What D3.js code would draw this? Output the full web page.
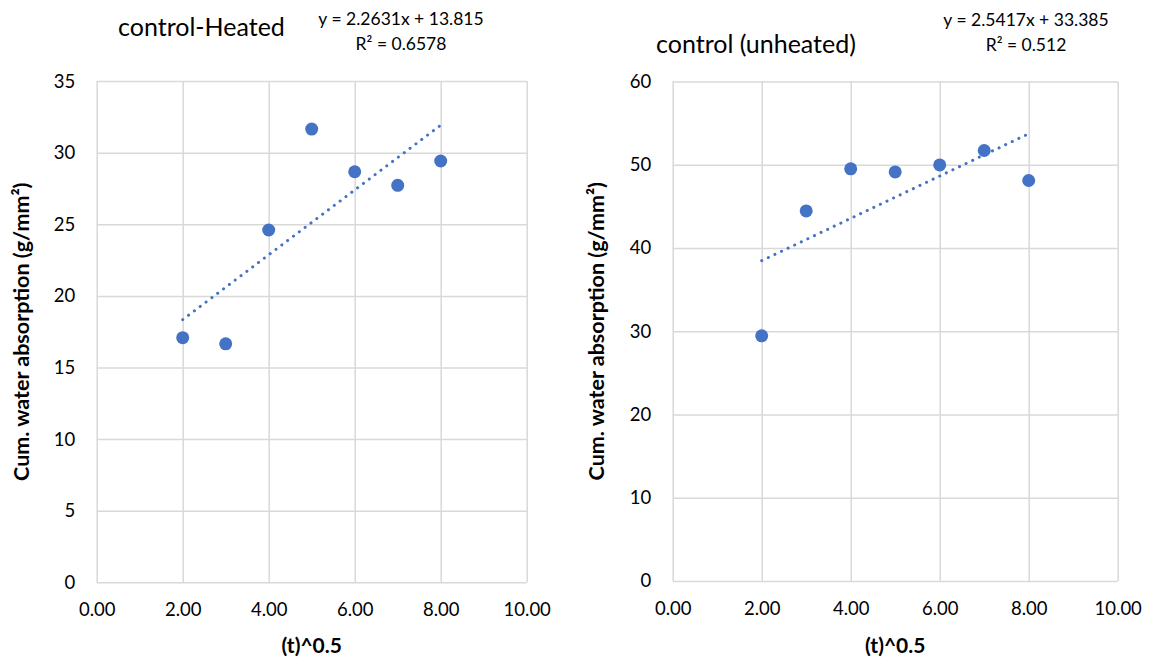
<!DOCTYPE html>
<html>
<head>
<meta charset="utf-8">
<script src="https://cdn.jsdelivr.net/npm/d3@7"></script>
<style>
  html, body { margin: 0; padding: 0; background: #fff; }
  svg { display: block; font-family: Lato, "Open Sans", sans-serif; }
</style>
</head>
<body>
<svg id="chart" width="1158" height="660"></svg>
<script>
// Square root of time (x) for both sets of measurements
const sqrtTime = [2, 3, 4, 5, 6, 7, 8];

// Cumulative water absorption, heated control
const heatedValues = [17.08, 16.65, 24.6, 31.65, 28.67, 27.72, 29.42];
// Cumulative water absorption, unheated control
const unheatedValues = [29.44, 44.45, 49.5, 49.13, 49.97, 51.7, 48.1];

// Linear trendline coefficients (slope, intercept) and R²
const heatedFit = [2.2631, 13.815, 0.6578];
const unheatedFit = [2.5417, 33.385, 0.512];

const titles = ["control-Heated", "control (unheated)"];
const xTicks = [0, 2, 4, 6, 8, 10];
const heatedYTicks = [0, 5, 10, 15, 20, 25, 30, 35];
const unheatedYTicks = [0, 10, 20, 30, 40, 50, 60];
const xAxisTitle = "(t)^0.5";
const yAxisTitle = "Cum. water absorption (g/mm²)";

const svg = d3.select("#chart");
const blue = "#4472C4";
const grid = "#d9d9d9";
const tickFont = 18.5;

function panel(cfg) {
  const x = d3.scaleLinear().domain([0, 10]).range([cfg.left, cfg.right]);
  const y = d3.scaleLinear().domain([0, cfg.yMax]).range([cfg.bottom, cfg.top]);
  const g = svg.append("g");

  // vertical gridlines + x tick labels
  g.append("g")
    .attr("transform", `translate(0,${cfg.bottom})`)
    .call(d3.axisBottom(x).tickValues(xTicks).tickSize(-(cfg.bottom - cfg.top)).tickFormat(d3.format(".2f")).tickPadding(20.5))
    .call(a => a.select(".domain").remove())
    .call(a => a.selectAll("line").attr("stroke", grid).attr("stroke-width", 1.5))
    .call(a => a.selectAll("text").attr("fill", "#000").attr("font-size", tickFont).attr("font-family", "Lato, sans-serif"));

  // horizontal gridlines + y tick labels
  g.append("g")
    .attr("transform", `translate(${cfg.left},0)`)
    .call(d3.axisLeft(y).tickValues(cfg.yTicks).tickSize(-(cfg.right - cfg.left)).tickPadding(21.5))
    .call(a => a.select(".domain").remove())
    .call(a => a.selectAll("line").attr("stroke", grid).attr("stroke-width", 1.5))
    .call(a => a.selectAll("text").attr("fill", "#000").attr("font-size", tickFont).attr("font-family", "Lato, sans-serif"));

  // dotted linear trendline across the measured range
  const [m, b] = cfg.fit;
  const xs = [d3.min(sqrtTime), d3.max(sqrtTime)];
  g.append("line")
    .attr("x1", x(xs[0])).attr("y1", y(m * xs[0] + b))
    .attr("x2", x(xs[1])).attr("y2", y(m * xs[1] + b))
    .attr("stroke", blue).attr("stroke-width", 3)
    .attr("stroke-linecap", "round")
    .attr("stroke-dasharray", "0.1,7.2");

  // data points
  g.selectAll("circle.pt")
    .data(sqrtTime.map((t, i) => [t, cfg.values[i]]))
    .join("circle")
    .attr("class", "pt")
    .attr("cx", d => x(d[0])).attr("cy", d => y(d[1]))
    .attr("r", 6.5).attr("fill", blue);

  // chart title
  g.append("text")
    .attr("x", cfg.titleX).attr("y", cfg.titleY)
    .attr("font-size", 25).attr("fill", "#000")
    .text(cfg.title);

  // trendline equation and R²
  const eq = g.append("text").attr("text-anchor", "middle").attr("font-size", 17.5).attr("fill", "#000");
  eq.append("tspan").attr("x", cfg.eqX).attr("y", cfg.eqY)
    .text(`y = ${m}x + ${b}`);
  eq.append("tspan").attr("x", cfg.eqX).attr("y", cfg.eqY + 25)
    .text(`R² = ${cfg.fit[2]}`);

  // axis titles
  g.append("text")
    .attr("x", (cfg.left + cfg.right) / 2).attr("y", 653)
    .attr("text-anchor", "middle").attr("font-weight", "bold").attr("font-size", 21)
    .text(xAxisTitle);
  g.append("text")
    .attr("transform", `translate(${cfg.yTitleX},${(cfg.top + cfg.bottom) / 2}) rotate(-90)`)
    .attr("text-anchor", "middle").attr("font-weight", "bold").attr("font-size", 21.5)
    .text(yAxisTitle);
}

panel({
  left: 96.7, right: 526.7, top: 81.1, bottom: 582.3, yMax: 35,
  yTicks: heatedYTicks, values: heatedValues, fit: heatedFit,
  title: titles[0], titleX: 118, titleY: 36, eqX: 401, eqY: 25, yTitleX: 29
});
panel({
  left: 672.7, right: 1117.7, top: 81.4, bottom: 581, yMax: 60,
  yTicks: unheatedYTicks, values: unheatedValues, fit: unheatedFit,
  title: titles[1], titleX: 656, titleY: 53, eqX: 1026, eqY: 26, yTitleX: 604
});
</script>
</body>
</html>
